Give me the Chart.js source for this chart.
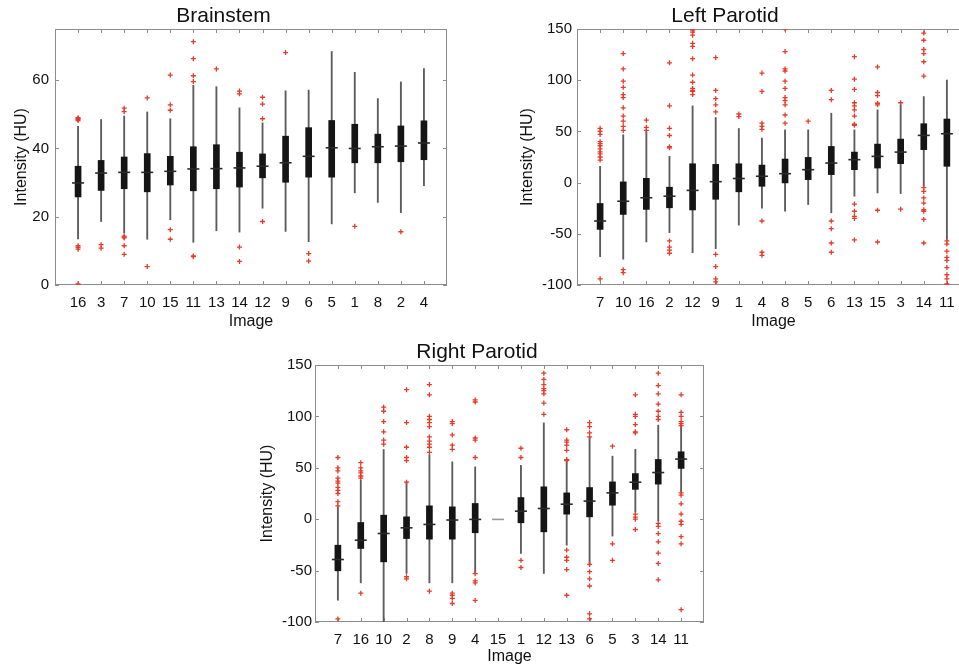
<!DOCTYPE html>
<html>
<head>
<meta charset="utf-8">
<script src="https://cdn.jsdelivr.net/npm/chart.js@4/dist/chart.umd.min.js"></script>
<style>
  html, body { margin: 0; padding: 0; background: #fff; overflow: hidden; }
  body { width: 959px; height: 667px; position: relative; }
  canvas { position: absolute; }
</style>
</head>
<body>
<canvas id="brainstem" width="480" height="335" style="left:0;top:0"></canvas>
<canvas id="leftParotid" width="500" height="335" style="left:480px;top:0"></canvas>
<canvas id="rightParotid" width="480" height="332" style="left:250px;top:335px"></canvas>
<script>
// ---- Brainstem ----
const bsLabels = ['16','3','7','10','15','11','13','14','12','9','6','5','1','8','2','4'];
const bsQ1  = [25.8, 27.7, 28.2, 27.3, 29.3, 27.6, 28.2, 28.7, 31.4, 30.1, 31.6, 31.6, 35.8, 35.8, 36.1, 36.7];
const bsMed = [29.9, 32.8, 33.0, 33.0, 33.3, 34.0, 34.1, 34.3, 34.8, 35.8, 37.7, 40.2, 40.0, 40.5, 40.7, 41.6];
const bsQ3  = [34.8, 36.5, 37.5, 38.5, 37.7, 40.5, 41.1, 38.9, 38.4, 43.6, 46.1, 48.2, 47.1, 44.2, 46.6, 48.1];
const bsLo  = [13.5, 18.6, 15.2, 13.4, 19.1, 12.5, 15.9, 15.5, 22.5, 15.7, 12.7, 17.9, 27.0, 24.2, 21.2, 29.1];
const bsHi  = [46.5, 48.5, 49.5, 50.7, 48.7, 58.5, 58.1, 51.9, 47.5, 56.9, 57.1, 68.4, 62.3, 54.6, 59.5, 63.4];
const bsOut = [
  [48.2, 48.5, 48.8, 49.0, 11.5, 11.0, 10.5, 0.3],
  [11.8, 10.8],
  [50.8, 51.8, 14.3, 14.0, 13.8, 11.5, 9.0],
  [54.8, 5.4],
  [61.5, 52.8, 51.2, 16.2, 13.4],
  [71.3, 66.3, 61.3, 59.6, 8.5, 8.3],
  [63.3],
  [56.8, 56.0, 11.1, 6.9],
  [55.0, 53.0, 48.7, 18.6],
  [68.1],
  [9.2, 7.0],
  [],
  [17.2],
  [],
  [15.6],
  []
];
const bsYTicks = [0, 20, 40, 60];

// ---- Left Parotid ----
const lpLabels = ['7','10','16','2','12','9','1','4','8','5','6','13','15','3','14','11'];
const lpQ1  = [-45.7, -31.1, -26.2, -24.6, -26.7, -16.3, -9.0, -3.6, -0.3, 2.9, 7.8, 12.6, 14.2, 18.5, 32.2, 15.9];
const lpMed = [-37.5, -18.2, -14.8, -13.3, -7.6, 0.9, 4.0, 6.2, 8.7, 12.6, 19.1, 22.4, 25.6, 29.8, 46.1, 47.7];
const lpQ3  = [-20.4, 0.7, 4.2, -4.5, 18.4, 17.8, 18.4, 17.1, 23.0, 24.6, 35.3, 29.8, 37.6, 42.5, 57.5, 62.1];
const lpLo  = [-72.3, -74.8, -58.0, -48.9, -68.4, -64.5, -41.5, -25, -27.9, -21.4, -29.5, -13.3, -10.1, -10.7, -3.6, -55.4];
const lpHi  = [15.9, 46.7, 49.9, 25.6, 74.9, 63.6, 52.8, 43.4, 51.5, 51.5, 67.8, 51.5, 71.0, 75.9, 84.0, 100.2];
const lpOut = [
  [53, 50, 47, 40, 38, 36, 33, 30, 28, 25, 22, -94],
  [126, 111, 99, 93, 86, 83, 73, 65, 60, 55, 51, -85, -88],
  [61, 54, 51],
  [117, 75, 53, 46, 35, 34, -57, -63, -66, -69],
  [149, 147, 144, 136, 133, 121, 105, 98, 92, 90, 89, 86],
  [122, 90, 82, 76, 69, -70, -82, -94, -97],
  [67, 64.5],
  [107, 89, 58, 55, 52, -37.5, -68, -71],
  [150, 128, 111, 109, 99, 92, 83, 80, 76, 66, 58],
  [60],
  [90, 81, -37.5, -45, -59, -68],
  [123, 101, 91, 78, 75, 71, 65, 57, 56, -21, -28, -33, -35, -56],
  [113, 88, 85, 77.5, 76, -27, -58],
  [78, -26],
  [146, 139, 130, 126, 118, 104, -5, -8.6, -15, -20, -26.5, -28, -36, -59],
  [-57, -60, -67, -73, -76, -83, -90, -94, -99]
];

// ---- Right Parotid ----
const rpLabels = ['7','16','10','2','8','9','4','15','1','12','13','6','5','3','14','11'];
const rpQ1  = [-50.2, -28.5, -41.5, -18.8, -19.4, -19.4, -13.2, null, -3.5, -12.3, 4.9, 2.3, 13.6, 29.0, 34.1, 49.4];
const rpMed = [-39.2, -20.4, -13.9, -8.4, -5.1, -0.8, -0.2, -0.2, 7.8, 10.4, 14.6, 17.6, 25.6, 36.0, 45.4, 58.5];
const rpQ3  = [-25.3, -3.2, 3.9, 2.3, 13.0, 12.0, 15.3, null, 21.1, 31.5, 25.6, 30.8, 36.3, 44.4, 58.1, 65.6];
const rpLo  = [-78.8, -61.9, -100, -52.8, -61.9, -61.9, -52.8, null, -33.4, -52.8, -25.3, -44.7, -16.4, 7.1, -1.6, 26.6];
const rpHi  = [12.0, 37.9, 67.8, 36.3, 62.4, 55.8, 50.9, null, 52.5, 93.7, 57.4, 80.1, 61.3, 68.0, 91.5, 91.5];
const rpOut = [
  [60, 50, 47, 40, 37, 35, 31, 28, 25, 17, 13, -97],
  [55, 50, 47, 45, 42, 40, -72],
  [109, 105, 95, 85, 77, 73],
  [126, 94, 70, 60, 57, 36, -56, -58],
  [131, 121, 100, 97, 94, 90, 80, 76, 73, 70, 65, -70],
  [95, 93, 82, 72, 68, -72, -74, -77, -82],
  [116, 114, 79, 77, 60, -53, -60, -62, -79],
  [],
  [69, 60, -40, -47],
  [142, 136, 131, 127, 125, 122, 113, 102],
  [87, 77, 75, 72, 67, 58, 57, -30, -37, -40, -49, -74],
  [94, 90, 84, 80, -44, -51, -58, -65, -92, -97],
  [71, -24, -40],
  [121, 102, 100, 92, 85, 84, 5, 2, 0, -10],
  [142, 130, 122, 112, 105, 100, 97, -4, -7, -14, -22, -33, -43, -59],
  [121, 104, 100, 95, 93, 91, 25.6, 23.4, 15, 5, -2, -5, -17, -24, -88]
];
const parYTicks = [-100, -50, 0, 50, 100, 150];

const FONT = "'Liberation Sans', Arial, sans-serif";

// matlab-ish box with little inward ticks
const framePlugin = {
  id: 'frame',
  beforeDatasetsDraw(chart) {
    const { ctx, chartArea: a, scales: { x, y } } = chart;
    ctx.save();
    ctx.strokeStyle = '#8c8c8c';
    ctx.lineWidth = 1;
    ctx.strokeRect(a.left + 0.5, a.top + 0.5, a.width - 1, a.height - 1);
    ctx.beginPath();
    x.ticks.forEach(t => {
      const p = Math.round(x.getPixelForValue(t.value)) + 0.5;
      ctx.moveTo(p, a.top); ctx.lineTo(p, a.top + 4);
      ctx.moveTo(p, a.bottom); ctx.lineTo(p, a.bottom - 4);
    });
    y.ticks.forEach(t => {
      const p = Math.round(y.getPixelForValue(t.value)) + 0.5;
      ctx.moveTo(a.left, p); ctx.lineTo(a.left + 4, p);
      ctx.moveTo(a.right, p); ctx.lineTo(a.right - 4, p);
    });
    ctx.stroke();
    ctx.restore();
  }
};

function boxChart(id, title, labels, q1, med, q3, lo, hi, outliers, yMin, yMax, yTicks, g) {
  const whiskers = labels.map((l, i) => ({ x: i + 1, y: lo[i] == null ? null : [lo[i], hi[i]] }));
  const boxes = labels.map((l, i) => ({ x: i + 1, y: q1[i] == null ? null : [q1[i], q3[i]] }));
  const medians = labels.map((l, i) => ({ x: i + 1, y: med[i] }));
  const outs = [];
  outliers.forEach((arr, i) => arr.forEach(v => outs.push({ x: i + 1, y: v })));

  return new Chart(document.getElementById(id), {
    type: 'bar',
    data: {
      datasets: [
        { type: 'scatter', data: outs, order: 0, pointStyle: 'cross', radius: 2.5,
          borderColor: '#e63b2a', borderWidth: 1.3, backgroundColor: '#e63b2a' },
        { type: 'scatter', data: medians, order: 1, pointStyle: 'line', radius: 6,
          borderColor: c => q1[c.dataIndex] == null ? '#9a9a9a' : '#2a2a2a', borderWidth: 1.6 },
        { type: 'bar', data: boxes, order: 2, grouped: false, barThickness: 6,
          backgroundColor: '#151515' },
        { type: 'bar', data: whiskers, order: 3, grouped: false, barThickness: 1.2,
          backgroundColor: '#5c5c5c' }
      ]
    },
    options: {
      responsive: false,
      animation: false,
      events: [],
      layout: { padding: { left: 0, right: g.padRight, top: 0, bottom: 0 } },
      plugins: {
        legend: { display: false },
        tooltip: { enabled: false },
        title: {
          display: true,
          text: title,
          color: '#111',
          font: { family: FONT, size: 21, weight: 'normal', lineHeight: 1 },
          padding: { top: g.titleTop, bottom: g.titleBottom }
        }
      },
      scales: {
        x: {
          type: 'linear',
          min: 0,
          max: 17,
          offset: false,
          grid: { display: false, drawTicks: false, offset: false },
          border: { display: false },
          afterBuildTicks: s => { s.ticks = labels.map((l, i) => ({ value: i + 1 })); },
          afterFit: s => { s.height = g.xHeight; },
          ticks: {
            autoSkip: false,
            maxRotation: 0,
            padding: 9,
            color: '#111',
            font: { family: FONT, size: 15 },
            callback: v => labels[v - 1]
          },
          title: {
            display: true,
            text: 'Image',
            color: '#111',
            font: { family: FONT, size: 16 },
            padding: { top: 0, bottom: g.xTitleBottom }
          }
        },
        y: {
          min: yMin,
          max: yMax,
          grid: { display: false, drawTicks: false },
          border: { display: false },
          afterBuildTicks: s => { s.ticks = yTicks.map(v => ({ value: v })); },
          afterFit: s => { s.width = g.yWidth; },
          ticks: {
            padding: g.yTickPad,
            color: '#111',
            font: { family: FONT, size: 15 }
          },
          title: {
            display: true,
            text: 'Intensity (HU)',
            color: '#111',
            font: { family: FONT, size: 16 },
            padding: { top: g.yTitleTop, bottom: 0 }
          }
        }
      }
    },
    plugins: [framePlugin]
  });
}

boxChart('brainstem', 'Brainstem', bsLabels, bsQ1, bsMed, bsQ3, bsLo, bsHi, bsOut, 0, 75, bsYTicks,
  { padRight: 33, titleTop: 6, titleBottom: 2, xHeight: 50, xTitleBottom: 4, yWidth: 55, yTickPad: 6, yTitleTop: 12 });

boxChart('leftParotid', 'Left Parotid', lpLabels, lpQ1, lpMed, lpQ3, lpLo, lpHi, lpOut, -100, 150, parYTicks,
  { padRight: 10, titleTop: 6, titleBottom: 2, xHeight: 50, xTitleBottom: 4, yWidth: 97, yTickPad: 5, yTitleTop: 38 });

boxChart('rightParotid', 'Right Parotid', rpLabels, rpQ1, rpMed, rpQ3, rpLo, rpHi, rpOut, -100, 150, parYTicks,
  { padRight: 26, titleTop: 7, titleBottom: 2, xHeight: 45, xTitleBottom: 1, yWidth: 65, yTickPad: 3, yTitleTop: 8 });
</script>
</body>
</html>
